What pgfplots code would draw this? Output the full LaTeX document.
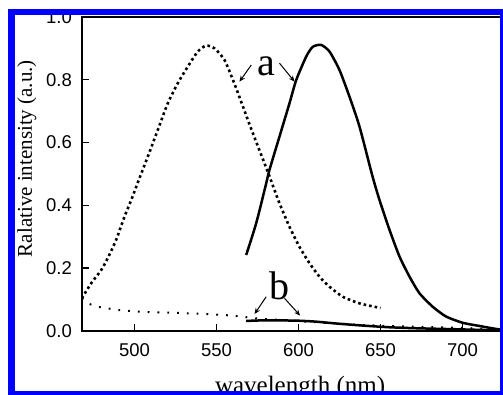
\documentclass[border=0pt]{standalone}
\usepackage{fontspec}
\setmainfont{Liberation Serif}
\newfontfamily\arial{Liberation Sans}
\usepackage{pgfplots}
\pgfplotsset{compat=1.18}
\usetikzlibrary{arrows.meta}
\begin{document}
\begin{tikzpicture}[x=1pt,y=1pt]
\useasboundingbox (0,0) rectangle (503,395);
\clip (0,0) rectangle (503,395);
\begin{axis}[
  at={(82pt,64pt)}, anchor=south west,
  scale only axis, width=437.9pt, height=314pt,
  xmin=468, xmax=735, ymin=0, ymax=1,
  xtick={500,550,600,650,700},
  ytick={0,0.2,0.4,0.6,0.8,1.0},
  tick pos=left, tick align=inside,
  major tick length=7pt,
  every tick/.style={black, line width=1.4pt},
  axis line style={line width=2pt},
  /pgf/number format/assume math mode=true,
  ticklabel style={font=\arial\fontsize{18.5}{18.5}\selectfont, inner sep=0pt},
  xticklabel style={yshift=-12pt, /pgf/number format/1000 sep={}},
  yticklabel style={xshift=-10pt, /pgf/number format/.cd, fixed, fixed zerofill, precision=1},
  xlabel={wavelength (nm)},
  ylabel={Ralative intensity (a.u.)},
  xlabel style={font=\fontsize{25}{25}\selectfont, inner sep=0pt, at={(axis description cs:0.498,-0.2006)}, anchor=base},
  ylabel style={font=\fontsize{21}{21}\selectfont, inner sep=0pt, at={(axis description cs:-0.1484,0.549)}, anchor=north},
  clip=true,
]
% dashed curve a
\addplot[black, line width=2.6pt, dash pattern=on 2.6pt off 3pt, smooth, tension=0.4] coordinates {
(467.9,0.104) (473.6,0.152) (479.7,0.194) (483.7,0.232) (488.8,0.290)
(493.9,0.364) (498,0.417) (503,0.486) (508.1,0.555) (514.2,0.640)
(520.3,0.725) (526.4,0.789) (532.5,0.842) (538.6,0.890) (543.7,0.909)
(548.8,0.900) (554.9,0.863) (560,0.800) (564,0.745) (570,0.660)
(576,0.578) (582,0.497) (588,0.412) (594.5,0.332) (600.6,0.268)
(606.7,0.216) (612.8,0.173) (618.9,0.141) (627,0.109) (637.2,0.088)
(648.4,0.075) (650,0.073)
};
% solid curve a
\addplot[black, line width=2.5pt, smooth, tension=0.4] coordinates {
(568.1,0.242) (574.2,0.343) (580.3,0.470) (582.3,0.513) (588.4,0.619)
(594.5,0.725) (598.6,0.799) (604.7,0.874) (608.7,0.905) (613.8,0.911)
(618.9,0.890) (625,0.831) (631.1,0.746) (637.2,0.651) (645,0.495)
(649.4,0.417) (655.5,0.322) (661.6,0.237) (667.7,0.173) (673.8,0.120)
(681.9,0.077) (690,0.046) (700.2,0.026) (710.4,0.016) (722.6,0.005)
(735,0.002)
};
% dotted curve b
\addplot[black, line width=2pt, dash pattern=on 1.8pt off 8pt] coordinates {
(467.9,0.104) (471.5,0.088) (477.6,0.077) (483.7,0.072) (489.8,0.067)
(504.1,0.061) (524.4,0.058) (544.7,0.054) (560,0.049) (568.1,0.044)
(574.2,0.040) (598.6,0.032) (618.9,0.025) (639.2,0.019) (660,0.015)
(684,0.012) (704,0.009) (720,0.006) (735,0.004)
};
% solid curve b
\addplot[black, line width=2.5pt, smooth, tension=0.4] coordinates {
(568.1,0.032) (580,0.034) (598.6,0.033) (610,0.030) (625,0.023)
(640,0.017) (655,0.012) (670,0.009) (685,0.007) (700,0.005)
(715,0.003) (735,0.001)
};
% annotations
\node[font=\fontsize{40}{40}\selectfont, inner sep=0pt, anchor=base] at (axis cs:580.2,0.815) {a};
\draw[line width=1pt, -{Stealth[length=6pt,width=5pt]}] (axis cs:571.2,0.847) -- (axis cs:564,0.794);
\draw[line width=1pt, -{Stealth[length=6pt,width=5pt]}] (axis cs:588.4,0.853) -- (axis cs:597.6,0.794);
\node[font=\fontsize{40}{40}\selectfont, inner sep=0pt, anchor=base] at (axis cs:588.4,0.099) {b};
\draw[line width=1pt, -{Stealth[length=6pt,width=5pt]}] (axis cs:580.3,0.109) -- (axis cs:573.2,0.054);
\draw[line width=1pt, -{Stealth[length=6pt,width=5pt]}] (axis cs:591.5,0.104) -- (axis cs:601,0.049);
\end{axis}
\draw[blue, line width=6.5pt] (11.5,1) rectangle (503.5,383);
\end{tikzpicture}
\end{document}
